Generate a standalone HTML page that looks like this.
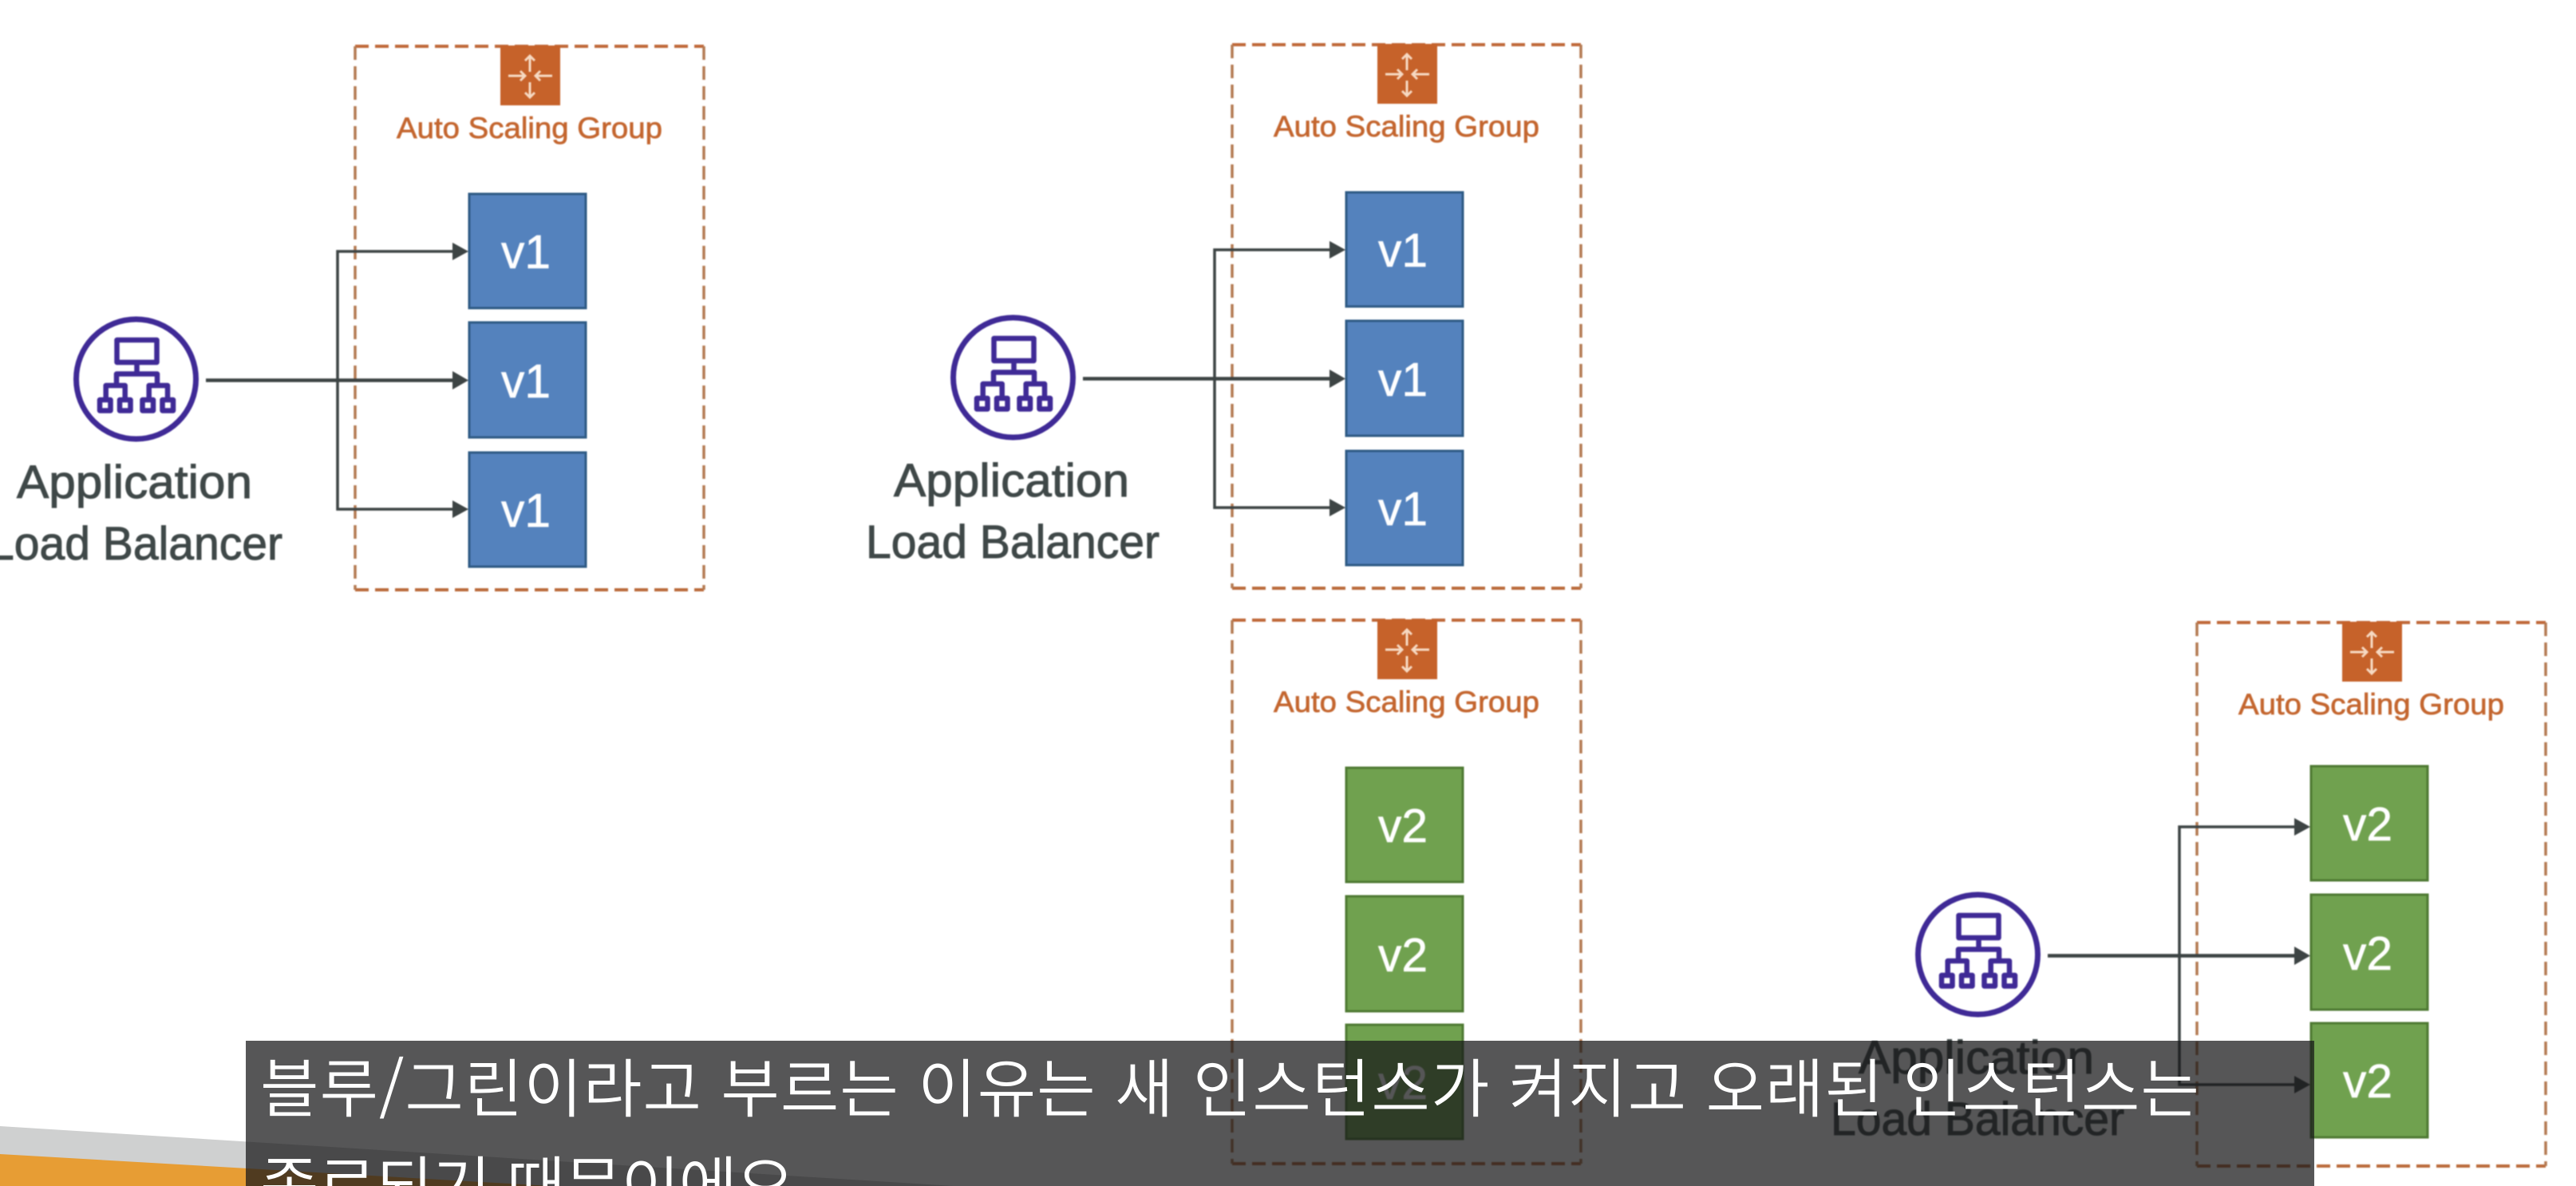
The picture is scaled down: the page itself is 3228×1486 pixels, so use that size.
<!DOCTYPE html>
<html lang="ko"><head><meta charset="utf-8"><title>Blue/Green</title>
<style>html,body{margin:0;padding:0;background:#fff;width:3228px;height:1486px;overflow:hidden}svg{display:block}
.asg{font:37px "Liberation Sans",sans-serif;fill:#c4662f;stroke:#c4662f;stroke-width:.7px}
.v{font:59px "Liberation Sans",sans-serif;fill:#fff;stroke:#fff;stroke-width:.6px;text-anchor:middle}
.alb{font:58px "Liberation Sans",sans-serif;fill:#3f4848;stroke:#3f4848;stroke-width:1px;text-anchor:middle}
.cap{font:350 80px "Noto Sans CJK KR","Liberation Sans",sans-serif;fill:#fff}
</style></head><body>
<svg width="3228" height="1486" viewBox="0 0 3228 1486" xmlns="http://www.w3.org/2000/svg">
<defs>
<g id="frame">
<path d="M445 58H882" fill="none" stroke="#c0693a" stroke-width="4" stroke-dasharray="17 8"/>
<path d="M445 739H882" fill="none" stroke="#bb6c3c" stroke-width="4" stroke-dasharray="17 8"/>
<path d="M445 58V739M882 58V739" fill="none" stroke="#b47a52" stroke-width="3.5" stroke-dasharray="17 8"/>
<rect x="627" y="57" width="75" height="75" fill="#c6622a"/>
<g stroke="#f6d9c2" stroke-width="3" fill="none">
<path d="M664 71V90M658 76l6-6 6 6M664 103V122M658 116l6 6 6-6M637 95H658M652 89l6 6-6 6M692 95H671M677 89l-6 6 6 6"/>
</g>
</g>
<g id="lb">
<circle cx="170.5" cy="475" r="75" fill="#fff" stroke="#3f2a96" stroke-width="7"/>
<g fill="none" stroke="#3f2a96" stroke-width="6.5" stroke-linejoin="round">
<rect x="146.5" y="426" width="50" height="28"/>
<path d="M171.5 457V468.5M146 483V468.5H197V483M132.7 498V483H156.7V498M186.7 498V483H210V498"/>
<rect x="125" y="501" width="13.5" height="13.5"/><rect x="150" y="501" width="13.5" height="13.5"/><rect x="178.5" y="501" width="13.5" height="13.5"/><rect x="203.5" y="501" width="13.5" height="13.5"/>
</g>
</g>
<g id="arrows" fill="none" stroke="#3d4444">
<path d="M258 476.5H570" stroke-width="4.5"/>
<path d="M570 315H423V638H570" stroke-width="3.5"/>
<g fill="#3d4444" stroke="none"><polygon points="567,304 587,315 567,326"/><polygon points="567,465 587,476.5 567,488"/><polygon points="567,627 587,638 567,649"/></g>
</g>
</defs>

<!-- bottom-left decoration -->
<polygon points="0,1411 1195,1486 0,1486" fill="#cfd0d0"/>
<polygon points="0,1446 690,1486 0,1486" fill="#e79d34"/>

<g style="filter:blur(.7px)">
<!-- Group 1 -->
<use href="#frame"/>
<text class="asg" x="497" y="173" textLength="333" lengthAdjust="spacingAndGlyphs">Auto Scaling Group</text>
<g fill="#5482bd" stroke="#2f5b85" stroke-width="3">
<rect x="588" y="243" width="146" height="143"/><rect x="588" y="404" width="146" height="144"/><rect x="588" y="567" width="146" height="143"/></g>
<text class="v" x="659" y="336" textLength="62" lengthAdjust="spacingAndGlyphs">v1</text>
<text class="v" x="659" y="498" textLength="62" lengthAdjust="spacingAndGlyphs">v1</text>
<text class="v" x="659" y="660" textLength="62" lengthAdjust="spacingAndGlyphs">v1</text>
<use href="#arrows"/>
<use href="#lb"/>
<text class="alb" x="168.5" y="624" textLength="295" lengthAdjust="spacingAndGlyphs">Application</text>
<text class="alb" x="170" y="701" textLength="368" lengthAdjust="spacingAndGlyphs">Load Balancer</text>

<!-- Group 2 -->
<g transform="translate(1099,-2)">
<use href="#frame"/>
<text class="asg" x="497" y="173" textLength="333" lengthAdjust="spacingAndGlyphs">Auto Scaling Group</text>
<g fill="#5482bd" stroke="#2f5b85" stroke-width="3">
<rect x="588" y="243" width="146" height="143"/><rect x="588" y="404" width="146" height="144"/><rect x="588" y="567" width="146" height="143"/></g>
<text class="v" x="659" y="336" textLength="62" lengthAdjust="spacingAndGlyphs">v1</text>
<text class="v" x="659" y="498" textLength="62" lengthAdjust="spacingAndGlyphs">v1</text>
<text class="v" x="659" y="660" textLength="62" lengthAdjust="spacingAndGlyphs">v1</text>
<use href="#arrows"/>
<use href="#lb"/>
<text class="alb" x="168.5" y="624" textLength="295" lengthAdjust="spacingAndGlyphs">Application</text>
<text class="alb" x="170" y="701" textLength="368" lengthAdjust="spacingAndGlyphs">Load Balancer</text>
</g>

<!-- Group 3 -->
<g transform="translate(1099,719)">
<use href="#frame"/>
<text class="asg" x="497" y="173" textLength="333" lengthAdjust="spacingAndGlyphs">Auto Scaling Group</text>
<g fill="#70a14f" stroke="#4f7a33" stroke-width="3">
<rect x="588" y="243" width="146" height="143"/><rect x="588" y="404" width="146" height="144"/><rect x="588" y="565" width="146" height="143"/></g>
<text class="v" x="659" y="336" textLength="62" lengthAdjust="spacingAndGlyphs">v2</text>
<text class="v" x="659" y="498" textLength="62" lengthAdjust="spacingAndGlyphs">v2</text>
<text class="v" x="659" y="658" textLength="62" lengthAdjust="spacingAndGlyphs">v2</text>
</g>

<!-- Group 4 -->
<g transform="translate(2308,717)">
<g transform="translate(0,5)"><use href="#frame"/>
<text class="asg" x="497" y="173" textLength="333" lengthAdjust="spacingAndGlyphs">Auto Scaling Group</text></g>
<g fill="#70a14f" stroke="#4f7a33" stroke-width="3">
<rect x="588" y="243" width="146" height="143"/><rect x="588" y="404" width="146" height="144"/><rect x="588" y="565" width="146" height="143"/></g>
<text class="v" x="659" y="336" textLength="62" lengthAdjust="spacingAndGlyphs">v2</text>
<text class="v" x="659" y="498" textLength="62" lengthAdjust="spacingAndGlyphs">v2</text>
<text class="v" x="659" y="658" textLength="62" lengthAdjust="spacingAndGlyphs">v2</text>
<g transform="translate(0,4)"><use href="#arrows"/>
<use href="#lb"/>
<text class="alb" x="168.5" y="624" textLength="295" lengthAdjust="spacingAndGlyphs">Application</text>
<text class="alb" x="170" y="701" textLength="368" lengthAdjust="spacingAndGlyphs">Load Balancer</text></g>
</g>
</g>

<!-- Caption -->
<rect x="308" y="1304" width="2592" height="182" fill="#171719" fill-opacity="0.73"/>
<text class="cap" x="326" y="1393" textLength="2430" lengthAdjust="spacing">블루/그린이라고 부르는 이유는 새 인스턴스가 켜지고 오래된 인스턴스는</text>
<text class="cap" x="326" y="1515" textLength="690" lengthAdjust="spacing">종료되기 때문이에요.</text>
</svg>
</body></html>
